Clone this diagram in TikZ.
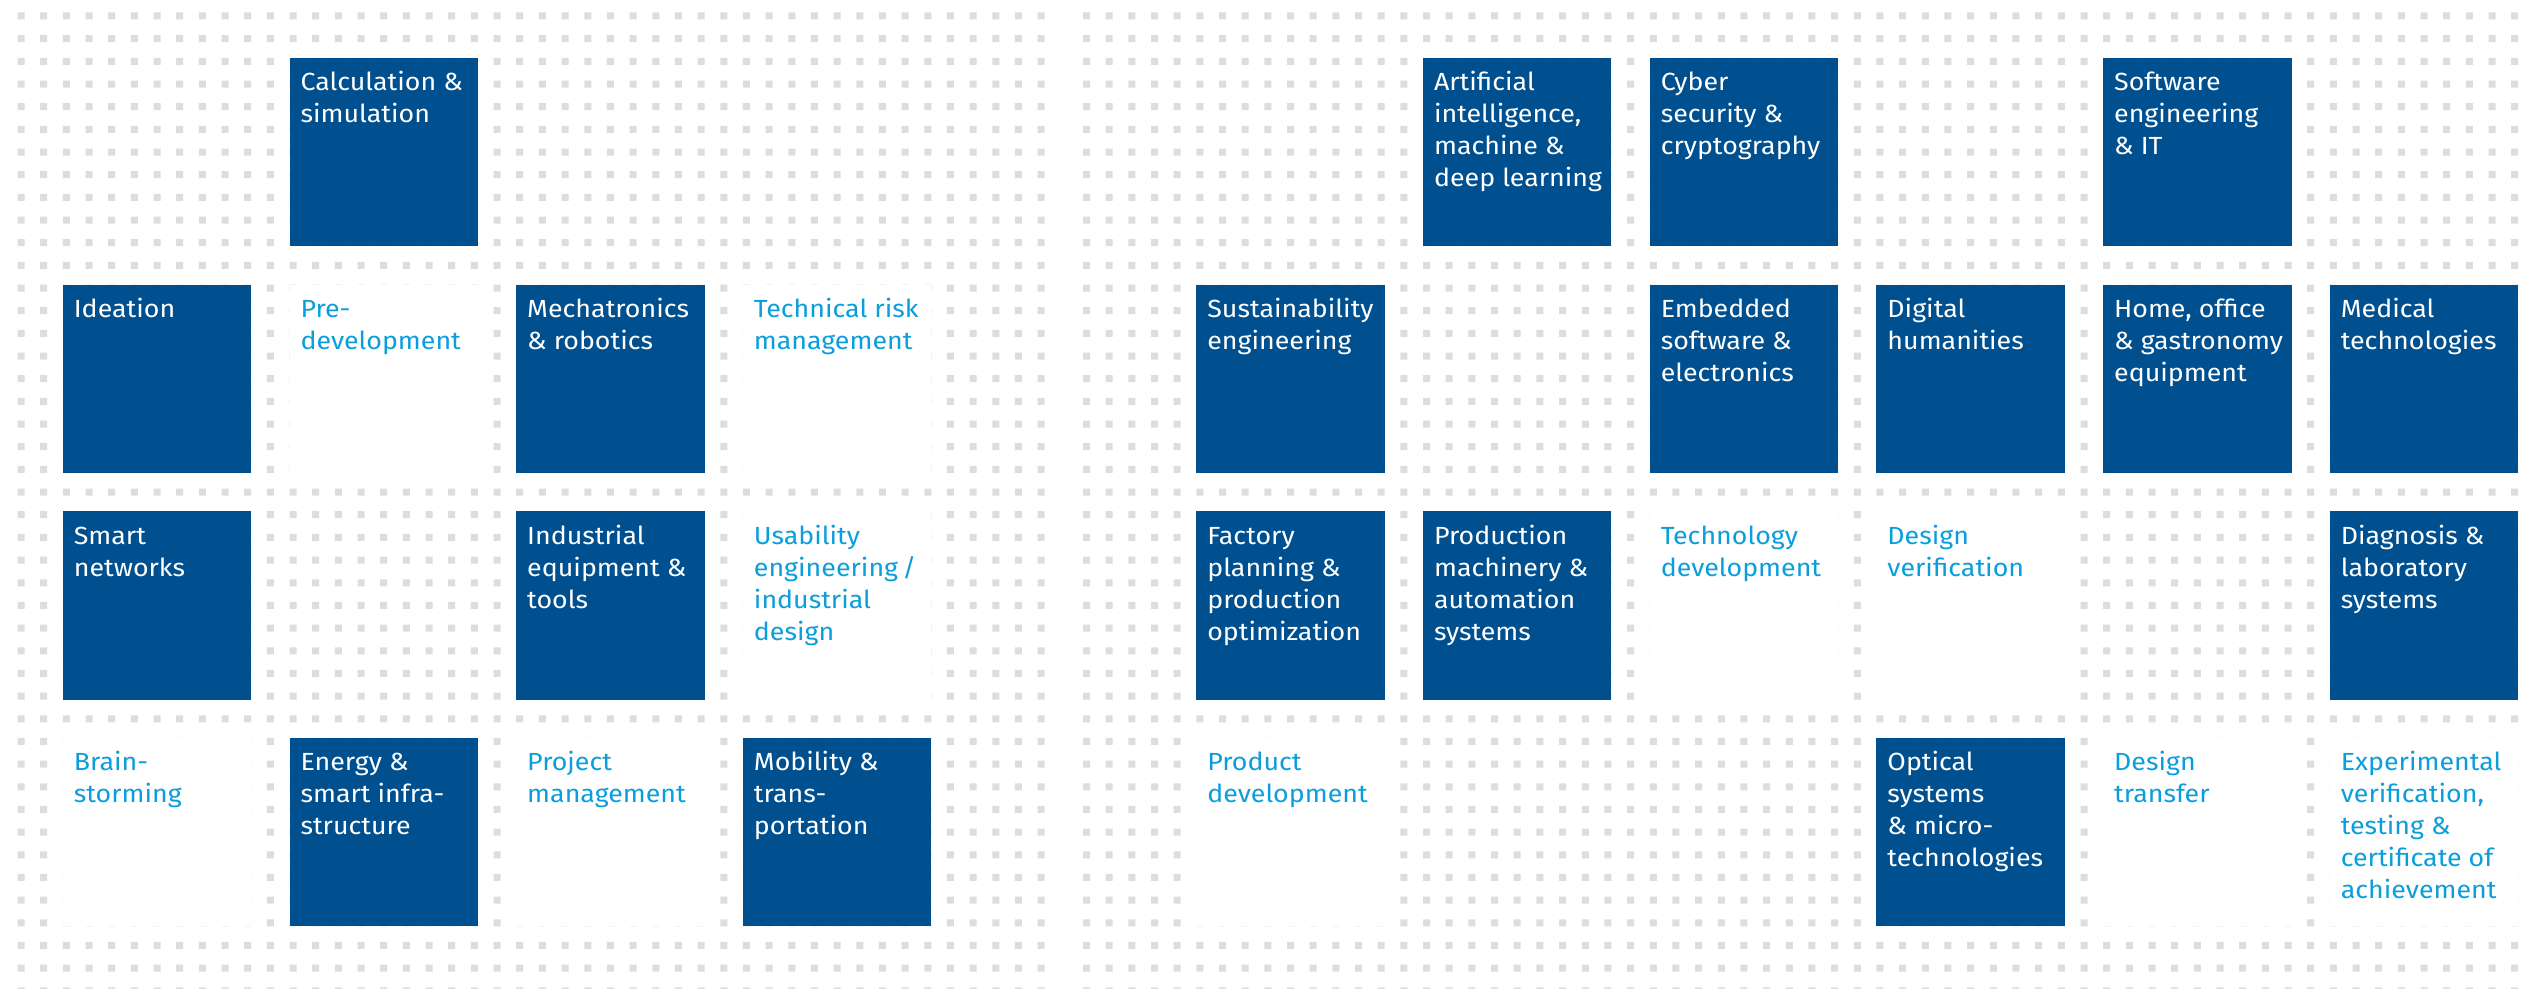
\documentclass[tikz,border=0pt]{standalone}
\usepackage{fontspec}
\setmainfont{Fira Sans}[FakeStretch=1.08]
\definecolor{boxblue}{HTML}{00508F}
\definecolor{txtcyan}{HTML}{0A9EDC}
\definecolor{dotgray}{HTML}{DCDDE0}
\tikzset{
  cellbox/.style={rectangle, anchor=north west, minimum width=94.2pt, minimum height=94.2pt, inner sep=0pt, outer sep=0pt, draw=none},
  bluebox/.style={cellbox, fill=boxblue},
  whitebox/.style={cellbox, fill=white},
  celltext/.style={anchor=base west, inner sep=0pt, outer sep=0pt, font=\fontsize{12.4pt}{16pt}\selectfont},
  bluetext/.style={celltext, text=white},
  cyantext/.style={celltext, text=txtcyan},
  dotfill/.style={fill=dotgray}
}
% #1 name, #2 box style, #3 text style, #4 column, #5 row, #6 text
\newcommand\mkcell[6]{%
  \pgfmathsetmacro\cx{21+(#4<4 ? 10*#4+2 : 10*#4+12)*22.67-3.5}%
  \pgfmathsetmacro\cy{16+(10*#5+2)*22.67-3.5}%
  \node[#2] (#1) at (\cx,\cy) {};
  \node[#3] (#1-t) at (\cx+11,\cy+33) {\parbox[t]{92pt}{\raggedright #6}};
}
\begin{document}
\begin{tikzpicture}[x=0.5pt,y=-0.5pt]
\fill[white] (0,0) rectangle (2536,989);
\useasboundingbox (0,0) rectangle (2536,989);
% dot grid
\fill[dotfill] \foreach \k in {0,...,45,47,48,...,110} {
  \foreach \j in {0,...,43} {
    (21+\k*22.67-3.5,16+\j*22.67-3.5) rectangle ++(7,7)
  }
};
% row 0
\mkcell{calc}{bluebox}{bluetext}{1}{0}{Calculation \&\\simulation}
\mkcell{ai}{bluebox}{bluetext}{5}{0}{Artificial\\intelligence,\\machine \&\\deep learning}
\mkcell{cyber}{bluebox}{bluetext}{6}{0}{Cyber\\security \&\\cryptography}
\mkcell{software}{bluebox}{bluetext}{8}{0}{Software\\engineering\\\& IT}
% row 1
\mkcell{ideation}{bluebox}{bluetext}{0}{1}{Ideation}
\mkcell{predev}{whitebox}{cyantext}{1}{1}{Pre-\\development}
\mkcell{mecha}{bluebox}{bluetext}{2}{1}{Mechatronics\\\& robotics}
\mkcell{techrisk}{whitebox}{cyantext}{3}{1}{Technical risk\\management}
\mkcell{sustain}{bluebox}{bluetext}{4}{1}{Sustainability\\engineering}
\mkcell{embedded}{bluebox}{bluetext}{6}{1}{Embedded\\software \&\\electronics}
\mkcell{digital}{bluebox}{bluetext}{7}{1}{Digital\\humanities}
\mkcell{home}{bluebox}{bluetext}{8}{1}{Home, office\\\& gastronomy\\equipment}
\mkcell{medical}{bluebox}{bluetext}{9}{1}{Medical\\technologies}
% row 2
\mkcell{smart}{bluebox}{bluetext}{0}{2}{Smart\\networks}
\mkcell{industrial}{bluebox}{bluetext}{2}{2}{Industrial\\equipment \&\\tools}
\mkcell{usability}{whitebox}{cyantext}{3}{2}{Usability\\engineering\,/\\industrial\\design}
\mkcell{factory}{bluebox}{bluetext}{4}{2}{Factory\\planning \&\\production\\optimization}
\mkcell{production}{bluebox}{bluetext}{5}{2}{Production\\machinery \&\\automation\\systems}
\mkcell{techdev}{whitebox}{cyantext}{6}{2}{Technology\\development}
\mkcell{designver}{whitebox}{cyantext}{7}{2}{Design\\verification}
\mkcell{diagnosis}{bluebox}{bluetext}{9}{2}{Diagnosis \&\\laboratory\\systems}
% row 3
\mkcell{brain}{whitebox}{cyantext}{0}{3}{Brain-\\storming}
\mkcell{energy}{bluebox}{bluetext}{1}{3}{Energy \&\\smart infra-\\structure}
\mkcell{project}{whitebox}{cyantext}{2}{3}{Project\\management}
\mkcell{mobility}{bluebox}{bluetext}{3}{3}{Mobility \&\\trans-\\portation}
\mkcell{productdev}{whitebox}{cyantext}{4}{3}{Product\\development}
\mkcell{optical}{bluebox}{bluetext}{7}{3}{Optical\\systems\\\& micro-\\technologies}
\mkcell{designtr}{whitebox}{cyantext}{8}{3}{Design\\transfer}
\mkcell{experimental}{whitebox}{cyantext}{9}{3}{Experimental\\verification,\\testing \&\\certificate of\\achievement}
\end{tikzpicture}
\end{document}
